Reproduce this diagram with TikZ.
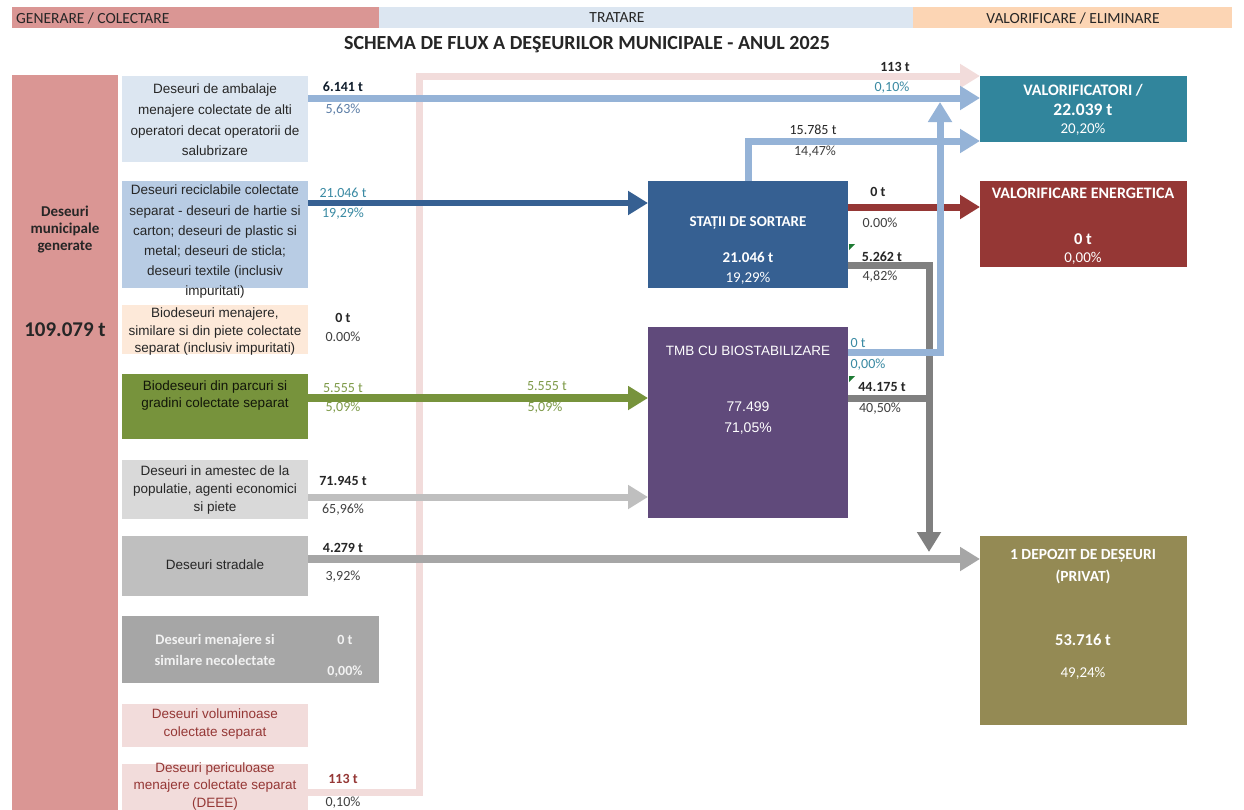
\documentclass[tikz,border=0pt]{standalone}
\usepackage{fontspec}
\setmainfont{Liberation Sans}
\newfontfamily\calfont{Carlito}
\usetikzlibrary{arrows.meta}

% palette
\definecolor{bandpink}{HTML}{DA9694}
\definecolor{bandblue}{HTML}{DCE6F1}
\definecolor{bandpeach}{HTML}{FCD5B4}
\definecolor{genred}{HTML}{DA9694}
\definecolor{palesky}{HTML}{DCE6F1}
\definecolor{softsky}{HTML}{B8CCE4}
\definecolor{palepeach}{HTML}{FDE9D9}
\definecolor{leaf}{HTML}{77933C}
\definecolor{mist}{HTML}{D9D9D9}
\definecolor{stone}{HTML}{BFBFBF}
\definecolor{slate}{HTML}{A6A6A6}
\definecolor{blush}{HTML}{F2DCDB}
\definecolor{wine}{HTML}{953735}
\definecolor{navybox}{HTML}{366092}
\definecolor{plumbox}{HTML}{604A7B}
\definecolor{tealbox}{HTML}{31859C}
\definecolor{olivebox}{HTML}{948A54}
\definecolor{skyflow}{HTML}{95B3D7}
\definecolor{ashflow}{HTML}{808080}
\definecolor{ink}{HTML}{262626}
\definecolor{pctgray}{HTML}{404040}
\definecolor{steel}{HTML}{5B7DA6}
\definecolor{tealtxt}{HTML}{3A8AA3}
\definecolor{moss}{HTML}{7E9A48}
\definecolor{flaggreen}{HTML}{1E7B34}

\tikzset{
  panel/.style={rectangle, inner sep=0pt, outer sep=0pt, anchor=north west},
  srctext/.style={inner sep=0pt, align=center, text=ink, font=\fontsize{13.5}{#1}\selectfont},
  srctext/.default=20,
  ton/.style={inner sep=0pt, text=ink, font=\calfont\bfseries\fontsize{14}{16}\selectfont},
  share/.style={inner sep=0pt, text=pctgray, font=\calfont\fontsize{14}{16}\selectfont},
  boxhead/.style={inner sep=0pt, align=center, text=white, font=\calfont\bfseries\fontsize{16}{21}\selectfont},
  boxnum/.style={inner sep=0pt, text=white, font=\calfont\bfseries\fontsize{16.5}{18}\selectfont},
  boxpct/.style={inner sep=0pt, text=white, font=\calfont\fontsize{15}{18}\selectfont},
  bandtext/.style={inner sep=0pt, text=ink, font=\calfont\fontsize{15.5}{17}\selectfont},
  flow/.style={line width=7pt, line join=miter},
  head/.style={-{Triangle[length=20pt,width=23pt]}},
}

\begin{document}
\begin{tikzpicture}[x=1pt, y=-1pt]
\useasboundingbox (0,0) rectangle (1244,809);
\clip (0,0) rectangle (1244,809);
\fill[white] (0,0) rectangle (1244,809);

% stage bands
\node[panel, fill=bandpink, minimum width=367pt, minimum height=21pt] (bandA) at (12,7) {};
\node[panel, fill=bandblue, minimum width=534pt, minimum height=21pt] (bandB) at (379,7) {};
\node[panel, fill=bandpeach, minimum width=319pt, minimum height=21pt] (bandC) at (913,7) {};
\node[bandtext, anchor=west] (bandAt) at (16,18) {GENERARE / COLECTARE};
\node[bandtext] (bandBt) at (617,18) {TRATARE};
\node[bandtext] (bandCt) at (1073,18) {VALORIFICARE / ELIMINARE};

\node[inner sep=0pt, text=ink, font=\calfont\bfseries\fontsize{20}{22}\selectfont] (title) at (587,45)
  {SCHEMA DE FLUX A DEŞEURILOR MUNICIPALE - ANUL 2025};

% total generated
\node[panel, fill=genred, minimum width=106pt, minimum height=760pt] (gen) at (12,75) {};
\node[inner sep=0pt, align=center, text=ink, font=\calfont\bfseries\fontsize{15}{17}\selectfont] (gentxt) at (65,230)
  {Deseuri\\municipale\\generate};
\node[inner sep=0pt, text=ink, font=\calfont\bfseries\fontsize{21}{24}\selectfont] (gentot) at (65,330) {109.079 t};

% collection streams
\node[panel, fill=palesky, minimum width=186pt, minimum height=86pt] (src1) at (122,76) {};
\node[panel, fill=softsky, minimum width=186pt, minimum height=107pt] (src2) at (122,181) {};
\node[panel, fill=palepeach, minimum width=186pt, minimum height=49pt] (src3) at (122,305) {};
\node[panel, fill=leaf, minimum width=186pt, minimum height=65pt] (src4) at (122,374) {};
\node[panel, fill=mist, minimum width=186pt, minimum height=59pt] (src5) at (122,460) {};
\node[panel, fill=stone, minimum width=186pt, minimum height=60pt] (src6) at (122,536) {};
\node[panel, fill=slate, minimum width=257pt, minimum height=67pt] (src7) at (122,616) {};
\node[panel, fill=blush, minimum width=186pt, minimum height=43pt] (src8) at (122,704) {};
\node[panel, fill=blush, minimum width=186pt, minimum height=60pt] (src9) at (122,764) {};

\node[srctext=20.7] (s1t) at (215,120) {Deseuri de ambalaje\\menajere colectate de alti\\operatori decat operatorii de\\salubrizare};
\node[srctext=20.2] (s2t) at (215,242) {Deseuri reciclabile colectate\\separat - deseuri de hartie si\\carton; deseuri de plastic si\\metal; deseuri de sticla;\\deseuri textile (inclusiv\\impuritati)};
\node[srctext=17.5] (s3t) at (215,332) {Biodeseuri menajere,\\similare si din piete colectate\\separat (inclusiv impuritati)};
\node[srctext=17, text=black!85!leaf] (s4t) at (215,396) {Biodeseuri din parcuri si\\gradini colectate separat};
\node[srctext=18] (s5t) at (215,490) {Deseuri in amestec de la\\populatie, agenti economici\\si piete};
\node[srctext] (s6t) at (215,565) {Deseuri stradale};
\node[inner sep=0pt, align=center, text=white!95!black, font=\calfont\bfseries\fontsize{14.5}{21}\selectfont] (s7t) at (215,650) {Deseuri menajere si\\similare necolectate};
\node[ton, text=white!95!black] (s7q) at (345,640) {0 t};
\node[share, text=white!95!black, font=\calfont\bfseries\fontsize{14}{16}\selectfont] (s7p) at (345,672) {0,00\%};
\node[srctext=18, text=wine] (s8t) at (215,724) {Deseuri voluminoase\\colectate separat};
\node[srctext=17.5, text=wine] (s9t) at (215,786) {Deseuri periculoase\\menajere colectate separat\\(DEEE)};

% stream quantities
\node[ton, text=black!70!navybox] (q1) at (343,87) {6.141 t};
\node[share, text=steel] (p1) at (343,110) {5,63\%};
\node[ton, text=tealtxt, font=\calfont\fontsize{14}{16}\selectfont] (q2) at (343,193) {21.046 t};
\node[share, text=tealtxt] (p2) at (343,214) {19,29\%};
\node[ton] (q3) at (343,318) {0 t};
\node[share] (p3) at (343,337) {0.00\%};
\node[ton, text=moss, font=\calfont\fontsize{14}{16}\selectfont] (q4) at (343,388) {5.555 t};
\node[share, text=moss] (p4) at (343,408) {5,09\%};
\node[ton] (q5) at (343,481) {71.945 t};
\node[share] (p5) at (343,510) {65,96\%};
\node[ton] (q6) at (343,548) {4.279 t};
\node[share] (p6) at (343,577) {3,92\%};
\node[ton, text=wine] (q9) at (343,779) {113 t};
\node[share] (p9) at (343,803) {0,10\%};

% treatment
\node[panel, fill=navybox, minimum width=200pt, minimum height=107pt] (sortare) at (648,181) {};
\node[boxhead, font=\calfont\bfseries\fontsize{15}{18}\selectfont] (sortt) at (748,223) {STAȚII DE SORTARE};
\node[boxnum, font=\calfont\bfseries\fontsize{15}{18}\selectfont] (sortq) at (748,257) {21.046 t};
\node[boxpct] (sortp) at (748,278) {19,29\%};

\node[panel, fill=plumbox, minimum width=200pt, minimum height=191pt] (tmb) at (648,327) {};
\node[inner sep=0pt, text=white, font=\fontsize{13.5}{16}\selectfont] (tmbt) at (748,351) {TMB CU BIOSTABILIZARE};
\node[inner sep=0pt, text=white, font=\fontsize{14}{16}\selectfont] (tmbq) at (748,407) {77.499};
\node[inner sep=0pt, text=white, font=\fontsize{14}{16}\selectfont] (tmbp) at (748,428) {71,05\%};

% recovery / disposal
\node[panel, fill=tealbox, minimum width=207pt, minimum height=66pt] (valor) at (980,76) {};
\node[boxhead] (valt) at (1083,90) {VALORIFICATORI /};
\node[boxnum, font=\calfont\bfseries\fontsize{17.5}{18}\selectfont] (valq) at (1083,110) {22.039 t};
\node[boxpct] (valp) at (1083,129) {20,20\%};

\node[panel, fill=wine, minimum width=207pt, minimum height=86pt] (energ) at (980,181) {};
\node[boxhead] (ent) at (1083,193) {VALORIFICARE ENERGETICA};
\node[boxnum] (enq) at (1083,239) {0 t};
\node[boxpct] (enp) at (1083,258) {0,00\%};

\node[panel, fill=olivebox, minimum width=207pt, minimum height=189pt] (depozit) at (980,536) {};
\node[boxhead, font=\calfont\bfseries\fontsize{15.5}{22}\selectfont] (dept) at (1083,567) {1 DEPOZIT DE DEȘEURI\\(PRIVAT)};
\node[boxnum] (depq) at (1083,640) {53.716 t};
\node[boxpct] (depp) at (1083,673) {49,24\%};

% route corners
\coordinate (pinkturn) at (419,76);
\coordinate (gdrop) at (929,552);
\coordinate (vtip) at (940,102);

% flows
\draw[flow, blush, head] (src9.east |- 0,792) -| (pinkturn) -- (valor.west |- 0,76);
\draw[flow, skyflow, head] (src1.east |- 0,98) -- (valor.west |- 0,98);
\draw[flow, navybox, line width=6pt, head] (src2.east |- 0,203) -- (sortare.west |- 0,203);
\draw[flow, leaf, line width=8pt, head] (src4.east |- 0,398) -- (tmb.west |- 0,398);
\draw[flow, stone, head] (src5.east |- 0,497) -- (tmb.west |- 0,497);
\draw[flow, slate, line width=8pt, head] (src6.east |- 0,559) -- (depozit.west |- 0,559);
\draw[flow, wine, head] (sortare.east |- 0,207) -- (energ.west |- 0,207);
\draw[flow, ashflow, head] (sortare.east |- 0,265) -| (gdrop);
\draw[flow, ashflow] (tmb.east |- 0,398) -- (932.5,398);
\draw[flow, skyflow, head] (sortare.north) |- (valor.west |- 0,141);
\draw[flow, skyflow, head] (tmb.east |- 0,352) -| (vtip);

% cell markers
\fill[flaggreen] (849,244) -- (855,244) -- (849,250) -- cycle;
\fill[flaggreen] (849,376) -- (855,376) -- (849,382) -- cycle;

% flow quantities
\node[ton, text=moss, font=\calfont\fontsize{14}{16}\selectfont] (mq) at (547,386) {5.555 t};
\node[share, text=moss] (mp) at (545,408) {5,09\%};
\node[ton] (hq) at (895,67) {113 t};
\node[share, text=tealtxt] (hp) at (892,88) {0,10\%};
\node[ton, font=\calfont\fontsize{14}{16}\selectfont] (rq) at (813,130) {15.785 t};
\node[share] (rp) at (815,152) {14,47\%};
\node[ton] (eq) at (878,192) {0 t};
\node[share] (ep) at (880,223) {0.00\%};
\node[ton] (dq) at (882,257) {5.262 t};
\node[share] (dp) at (880,277) {4,82\%};
\node[ton, text=tealtxt, font=\calfont\fontsize{14}{16}\selectfont] (tq) at (858,343) {0 t};
\node[share, text=tealtxt] (tp) at (868,365) {0,00\%};
\node[ton] (bq) at (882,387) {44.175 t};
\node[share] (bp) at (880,409) {40,50\%};
\end{tikzpicture}
\end{document}
